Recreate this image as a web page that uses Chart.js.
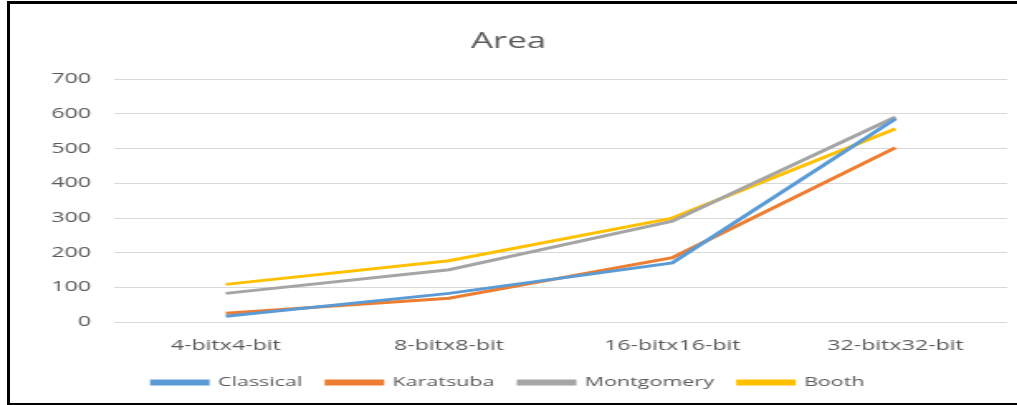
<!DOCTYPE html>
<html lang="en">
<head>
    <meta charset="UTF-8">
    <title>Area</title>
    <script src="https://cdn.jsdelivr.net/npm/chart.js"></script>
    <style>
        body { margin: 0; background: #fff; overflow: hidden; }
        .frame {
            position: absolute;
            left: 7px; top: 1px;
            width: 1012px; height: 399px;
            border: 3px solid #000;
            background: #fff;
            overflow: hidden;
        }
        /* the source picture is stretched sideways, so draw narrow and widen */
        .stretch {
            width: 612px; height: 399px;
            transform: scaleX(1.6536);
            transform-origin: 0 0;
        }
        .stretch canvas { display: block; }
    </style>
</head>
<body>
    <div class="frame">
        <div class="stretch">
            <canvas id="areaChart" width="612" height="399"></canvas>
        </div>
    </div>
    <script>
        const categories = ['4-bitx4-bit', '8-bitx8-bit', '16-bitx16-bit', '32-bitx32-bit'];
        const classical = [17, 83, 171, 586];
        const karatsuba = [26, 69, 186, 503];
        const montgomery = [83, 151, 291, 591];
        const booth = [109, 177, 300, 557];
        const yTicks = [0, 100, 200, 300, 400, 500, 600, 700];

        const txt = '#595959';
        const fam = '"Open Sans", sans-serif';

        function series(label, data, color) {
            return {
                label: label,
                data: data,
                borderColor: color,
                backgroundColor: color,
                borderWidth: 3,
                pointRadius: 0,
                tension: 0,
                fill: false
            };
        }

        new Chart(document.getElementById('areaChart').getContext('2d'), {
            type: 'line',
            data: {
                labels: categories,
                datasets: [
                    series('Classical', classical, '#5B9BD5'),
                    series('Karatsuba', karatsuba, '#ED7D31'),
                    series('Montgomery', montgomery, '#A5A5A5'),
                    series('Booth', booth, '#FFC000')
                ]
            },
            options: {
                responsive: false,
                animation: false,
                layout: { padding: { left: 0, right: 9, top: 0, bottom: 4 } },
                plugins: {
                    title: {
                        display: true,
                        text: 'Area',
                        color: txt,
                        font: { family: fam, size: 21, weight: 'normal' },
                        padding: { top: 25, bottom: 25 }
                    },
                    legend: {
                        position: 'bottom',
                        labels: {
                            color: txt,
                            font: { family: fam, size: 13 },
                            boxWidth: 33,
                            boxHeight: 3,
                            padding: 15
                        }
                    },
                    tooltip: { enabled: false }
                },
                scales: {
                    x: {
                        offset: true,
                        grid: { display: false },
                        border: { display: false },
                        ticks: { color: txt, font: { family: fam, size: 14 }, padding: 7 }
                    },
                    y: {
                        min: yTicks[0],
                        max: yTicks[yTicks.length - 1],
                        afterFit: s => { s.width = 63; },
                        afterBuildTicks: s => { s.ticks = yTicks.map(v => ({ value: v })); },
                        grid: { color: '#d9d9d9', drawTicks: false },
                        border: { display: false },
                        ticks: { color: txt, font: { family: fam, size: 14 }, padding: 14 }
                    }
                }
            }
        });
    </script>
</body>
</html>
